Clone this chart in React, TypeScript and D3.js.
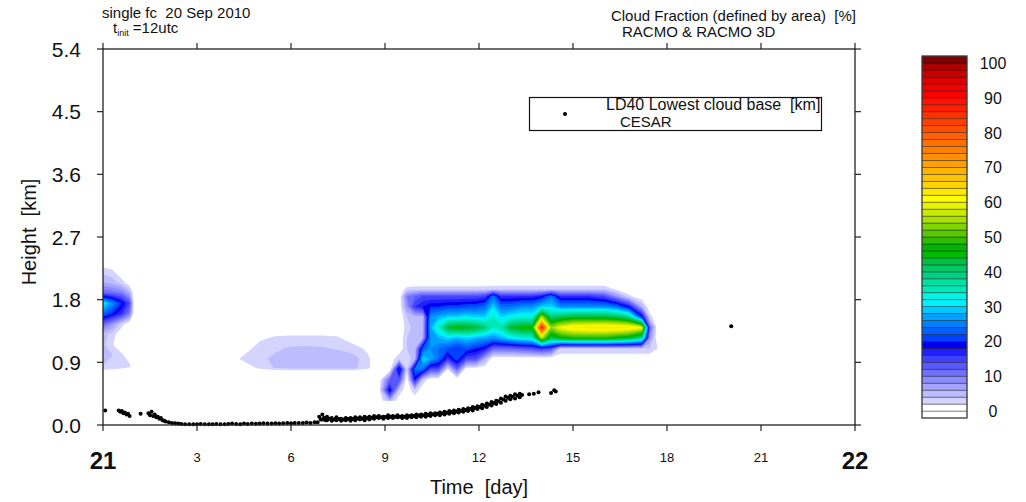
import React, { useMemo } from "react";
import * as d3 from "d3";

// ---------- DATA ----------
// Height axis ticks (km) and time ticks (hours after 21 Sep 00 UTC)
const heightTicks = [0.0, 0.9, 1.8, 2.7, 3.6, 4.5, 5.4];
const timeTicks = [0, 3, 6, 9, 12, 15, 18, 21, 24];
const timeTickLabels = ["21", "3", "6", "9", "12", "15", "18", "21", "22"];
const colorbarLabels = [0, 10, 20, 30, 40, 50, 60, 70, 80, 90, 100];
const cfLevels = d3.range(2, 101, 2);

// Cloud fraction [%] — blob at forecast start (rows bottom -> top)
const blobATimes = [0, 0.3, 0.6, 0.85, 1.0];
const blobAHeights = [0.6, 0.75, 0.85, 1.0, 1.15, 1.3, 1.45, 1.6, 1.75, 1.9, 2.05, 2.2, 2.35];
const blobAFraction = [
  [0, 0, 0, 0, 0],
  [0.5, 0.5, 0.5, 0.3, 0],
  [4, 3.5, 3, 2.4, 0],
  [5, 4, 2.5, 0.5, 0],
  [4.5, 2.2, 0, 0, 0],
  [5, 3, 0, 0, 0],
  [12, 8, 3, 0, 0],
  [24, 20, 16, 10, 0],
  [32, 26, 20, 14, 0],
  [12, 11, 10, 6, 0],
  [6, 5, 3, 0, 0],
  [3.5, 2.5, 0, 0, 0],
  [0, 0, 0, 0, 0],
];

// Faint mid-morning cloud
const blobBTimes = [4.0, 4.4, 5.0, 5.5, 6.0, 6.5, 7.0, 7.5, 8.0, 8.45, 8.8];
const blobBHeights = [0.76, 0.82, 0.95, 1.1, 1.25, 1.4];
const blobBFraction = [
  [0, 0, 0, 0, 0, 0, 0, 0, 0, 0, 0],
  [0, 0, 2.5, 4.2, 4.6, 4.8, 4.8, 4.8, 4.6, 2.5, 0],
  [0, 2.2, 3.5, 4.5, 5, 5.2, 5.3, 5.2, 5, 2.5, 0],
  [0, 0.5, 3, 3.6, 4.3, 4.4, 4.2, 3.8, 3, 1.5, 0],
  [0, 0, 1.5, 2.4, 2.6, 2.6, 2.6, 2.3, 0.5, 0, 0],
  [0, 0, 0, 0, 0, 0, 0, 0, 0, 0, 0],
];

// Main afternoon cloud deck
const blobCTimes = [8.8, 9.15, 9.45, 9.7, 9.95, 10.2, 10.45, 10.7, 11.0, 11.3, 11.6, 11.9, 12.2, 12.45, 12.7, 13.0, 13.35, 13.7, 14.0, 14.3, 14.6, 15.0, 15.5, 16.0, 16.4, 16.8, 17.2, 17.45, 17.7, 17.95];
const blobCHeights = [0.35, 0.5, 0.65, 0.8, 0.95, 1.1, 1.25, 1.4, 1.55, 1.7, 1.85, 1.95, 2.05];
const blobCFraction = [
  [0, 6, 0, 0, 0, 0, 0, 0, 0, 0, 0, 0, 0, 0, 0, 0, 0, 0, 0, 0, 0, 0, 0, 0, 0, 0, 0, 0, 0, 0],
  [0, 20, 4, 0, 4, 0, 0, 0, 0, 0, 0, 0, 0, 0, 0, 0, 0, 0, 0, 0, 0, 0, 0, 0, 0, 0, 0, 0, 0, 0],
  [0, 12, 14, 0, 18, 4, 0, 0, 0, 0, 0, 0, 0, 0, 0, 0, 0, 0, 0, 0, 0, 0, 0, 0, 0, 0, 0, 0, 0, 0],
  [0, 0, 22, 3, 24, 24, 14, 14, 2, 12, 0, 0, 0, 0, 0, 0, 0, 0, 0, 0, 0, 0, 0, 0, 0, 0, 0, 0, 0, 0],
  [0, 0, 4, 3, 5, 30, 28, 24, 16, 22, 14, 14, 6, 0, 0, 0, 0, 0, 0, 0, 0, 0, 0, 0, 0, 0, 0, 0, 0, 0],
  [0, 0, 0, 4, 5, 22, 26, 24, 22, 20, 22, 20, 18, 12, 12, 12, 13, 14, 16, 14, 4, 4, 4, 4, 4, 4, 4, 4, 2, 0],
  [0, 0, 0, 4, 5, 6, 26, 28, 30, 28, 30, 28, 27, 26, 28, 31, 33, 34, 56, 42, 46, 48, 48, 48, 46, 44, 38, 8, 0, 0],
  [0, 0, 0, 3, 5, 5, 28, 34, 44, 46, 45, 44, 40, 34, 36, 44, 46, 46, 88, 54, 60, 63, 64, 64, 64, 63, 60, 12, 0, 0],
  [0, 0, 0, 4, 5, 5, 26, 28, 30, 30, 31, 30, 30, 34, 30, 32, 33, 33, 56, 40, 42, 44, 44, 44, 42, 38, 20, 3, 0, 0],
  [0, 0, 0, 8, 16, 18, 20, 20, 21, 21, 22, 22, 24, 30, 24, 24, 26, 26, 30, 30, 26, 26, 26, 26, 24, 18, 6, 0, 0, 0],
  [0, 0, 0, 10, 12, 14, 14, 14, 14, 14, 14, 14, 15, 24, 16, 16, 16, 16, 18, 24, 16, 16, 16, 14, 8, 2.5, 0, 0, 0, 0],
  [0, 0, 0, 3, 3.5, 3.5, 3.5, 3.5, 3.5, 3.5, 3.5, 3.5, 3.5, 4, 4, 4, 4, 4, 4, 4, 4, 4, 4, 4, 1.5, 0, 0, 0, 0, 0],
  [0, 0, 0, 0, 0, 0, 0, 0, 0, 0, 0, 0, 0, 0, 0, 0, 0, 0, 0, 0, 0, 0, 0, 0, 0, 0, 0, 0, 0, 0],
];

// LD40 lowest cloud base (CESAR) — time [h], height [km]
const ldTime = [
  0.07, 0.5, 0.55, 0.6, 0.65, 0.7, 0.75, 0.8, 0.85, 1.2,
  1.45, 1.5, 1.55, 1.6, 1.65, 1.7, 1.75, 1.8, 1.85, 1.9, 1.95,
  2.0, 2.1, 2.2, 2.3, 2.4, 2.5, 2.62, 2.75, 2.88, 3.0, 3.12, 3.25, 3.38, 3.5, 3.62, 3.75, 3.88,
  4.0, 4.12, 4.25, 4.38, 4.5, 4.62, 4.75, 4.88, 5.0, 5.12, 5.25, 5.38, 5.5, 5.62, 5.75, 5.88,
  6.0, 6.12, 6.25, 6.38, 6.5, 6.62, 6.75, 6.85,
  6.9, 6.95, 7.0, 7.0, 7.05, 7.1, 7.15, 7.15, 7.3, 7.3, 7.45, 7.45, 7.6, 7.6, 7.75, 7.75,
  7.9, 7.9, 8.05, 8.05, 8.2, 8.2, 8.35, 8.35, 8.5, 8.5, 8.65, 8.65, 8.8, 8.8, 8.95, 8.95,
  9.1, 9.1, 9.25, 9.25, 9.4, 9.4, 9.55, 9.55, 9.7, 9.7, 9.85, 9.85, 10.0, 10.0, 10.15, 10.15,
  10.3, 10.3, 10.45, 10.45, 10.6, 10.6, 10.75, 10.75, 10.9, 10.9, 11.05, 11.05, 11.2, 11.2,
  11.35, 11.35, 11.5, 11.5, 11.65, 11.65, 11.8, 11.8, 11.95, 11.95, 12.1, 12.1, 12.25, 12.25,
  12.4, 12.4, 12.55, 12.55, 12.7, 12.7, 12.85, 12.85, 13.0, 13.0, 13.15, 13.15, 13.3, 13.3,
  13.6, 13.75, 13.9, 14.3, 14.4, 14.45, 20.05,
  7.075, 7.225, 7.375, 7.525, 7.675, 7.825, 7.975, 8.125, 8.275, 8.425, 8.575, 8.725, 8.875,
  9.025, 9.175, 9.325, 9.475, 9.625, 9.775, 9.925, 10.075, 10.225, 10.375, 10.525, 10.675,
  10.825, 10.975, 11.125, 11.275, 11.425, 11.575, 11.725, 11.875, 12.025, 12.175, 12.325,
  12.475, 12.625, 12.775, 12.925, 13.075, 13.225, 13.375,
];
const ldHeight = [
  0.21, 0.21, 0.19, 0.2, 0.17, 0.18, 0.15, 0.16, 0.13, 0.16,
  0.17, 0.14, 0.19, 0.13, 0.15, 0.11, 0.12, 0.09, 0.1, 0.07, 0.06,
  0.05, 0.04, 0.03, 0.025, 0.02, 0.015, 0.012, 0.01, 0.012, 0.01, 0.015, 0.01, 0.012, 0.01, 0.015, 0.012, 0.01,
  0.015, 0.02, 0.015, 0.012, 0.02, 0.015, 0.02, 0.018, 0.02, 0.025, 0.02, 0.022, 0.025, 0.02, 0.025, 0.03,
  0.025, 0.03, 0.028, 0.03, 0.035, 0.03, 0.04, 0.04,
  0.12, 0.08, 0.08, 0.15, 0.1, 0.07, 0.07, 0.12, 0.06, 0.1, 0.07, 0.11, 0.06, 0.09, 0.07, 0.1,
  0.06, 0.1, 0.07, 0.11, 0.08, 0.11, 0.07, 0.12, 0.08, 0.12, 0.09, 0.13, 0.1, 0.13, 0.09, 0.12,
  0.1, 0.14, 0.1, 0.13, 0.11, 0.14, 0.1, 0.13, 0.1, 0.14, 0.11, 0.14, 0.11, 0.15, 0.12, 0.15,
  0.12, 0.16, 0.13, 0.17, 0.14, 0.17, 0.14, 0.18, 0.15, 0.19, 0.16, 0.2, 0.17, 0.21,
  0.18, 0.22, 0.19, 0.23, 0.2, 0.24, 0.21, 0.26, 0.23, 0.27, 0.24, 0.29, 0.26, 0.31,
  0.28, 0.33, 0.3, 0.35, 0.32, 0.38, 0.35, 0.41, 0.37, 0.42, 0.38, 0.44, 0.4, 0.45,
  0.44, 0.45, 0.47, 0.46, 0.5, 0.48, 1.42,
  0.1, 0.09, 0.08, 0.085, 0.08, 0.085, 0.085, 0.095, 0.095, 0.1, 0.105, 0.11, 0.11,
  0.115, 0.12, 0.12, 0.12, 0.12, 0.125, 0.13, 0.135, 0.14, 0.145, 0.155, 0.16,
  0.17, 0.175, 0.185, 0.195, 0.205, 0.215, 0.23, 0.245, 0.26, 0.275, 0.295,
  0.315, 0.34, 0.365, 0.39, 0.405, 0.42, 0.43,
];

// Colour table (52 boxes, bottom -> top)
const cfColors = [
  "#ffffff", "#ffffff", "#d4d4ff", "#bcbcff", "#a4a4ff", "#8c8cff", "#7070ff", "#5858ff",
  "#4040ff", "#2020ff", "#0000f0", "#0040ff", "#0060ff", "#0080ff", "#00a0ff", "#00c8ff",
  "#00f0ff", "#00f4e4", "#00e8b8", "#00e0a0", "#00d080", "#00c864", "#00c040", "#00bc00",
  "#00b400", "#30bc00", "#5ac800", "#80d400", "#a8e000", "#c8ec00", "#e6f400", "#ffff00",
  "#ffe800", "#ffd400", "#ffc400", "#ffb400", "#ffa000", "#ff9000", "#ff8000", "#ff7000",
  "#ff6000", "#ff5000", "#ff4000", "#ff3000", "#ff2000", "#ff1000", "#ff0000", "#f00000",
  "#dc0000", "#c80000", "#aa0000", "#800000",
];

// ---------- LAYOUT ----------
const W = 1026;
const H = 502;
const P = { left: 103, right: 855, top: 49, bottom: 425 };
const CB = { left: 922, right: 967, top: 56, bottom: 418 };
const FONT = "'Liberation Sans', Arial, Helvetica, sans-serif";

function interpAxis(arr: number[], c: number) {
  let u = c - 0.5;
  if (u < 0) u = 0;
  if (u > arr.length - 1) u = arr.length - 1;
  const i = Math.min(Math.floor(u), arr.length - 2);
  const f = u - i;
  return arr[i] + f * (arr[i + 1] - arr[i]);
}

function contourLayers(
  times: number[],
  heights: number[],
  rows: number[][],
  x: d3.ScaleLinear<number, number>,
  y: d3.ScaleLinear<number, number>
) {
  const n = times.length;
  const m = heights.length;
  const values = rows.flat();
  const gen = d3.contours().size([n, m]).thresholds(cfLevels);
  return gen(values).map((g) => {
    let d = "";
    g.coordinates.forEach((poly) => {
      poly.forEach((ring) => {
        ring.forEach(([cx, cy], i) => {
          const px = x(interpAxis(times, cx));
          const py = y(interpAxis(heights, cy));
          d += (i === 0 ? "M" : "L") + px.toFixed(2) + "," + py.toFixed(2);
        });
        d += "Z";
      });
    });
    return { value: g.value, d };
  });
}

export default function App() {
  const x = useMemo(() => d3.scaleLinear().domain([0, 24]).range([P.left, P.right]), []);
  const y = useMemo(() => d3.scaleLinear().domain([0, 5.4]).range([P.bottom, P.top]), []);
  const cbY = useMemo(() => d3.scaleLinear().domain([-2, 102]).range([CB.bottom, CB.top]), []);

  const layers = useMemo(() => {
    const a = contourLayers(blobATimes, blobAHeights, blobAFraction, x, y);
    const b = contourLayers(blobBTimes, blobBHeights, blobBFraction, x, y);
    const c = contourLayers(blobCTimes, blobCHeights, blobCFraction, x, y);
    return [...a, ...b, ...c];
  }, [x, y]);

  const colorFor = (v: number) => cfColors[Math.round(v / 2) + 1];

  return (
    <svg
      width={W}
      height={H}
      style={{ position: "absolute", left: 0, top: 0, background: "#fff", fontFamily: FONT }}
    >
      <defs>
        <clipPath id="plotClip">
          <rect x={P.left} y={P.top} width={P.right - P.left} height={P.bottom - P.top} />
        </clipPath>
      </defs>
      <rect x={0} y={0} width={W} height={H} fill="#fff" />

      {/* contour fill */}
      <g clipPath="url(#plotClip)">
        {layers
          .filter((l) => l.d.length > 0)
          .map((l, i) => (
            <path key={i} d={l.d} fill={colorFor(l.value)} fillRule="evenodd" stroke="none" />
          ))}
      </g>

      {/* LD40 cloud base dots */}
      <g>
        {ldTime.map((t, i) => (
          <circle key={i} cx={x(t)} cy={y(ldHeight[i])} r={2} fill="#000" />
        ))}
      </g>

      {/* frame */}
      <rect
        x={P.left}
        y={P.top}
        width={P.right - P.left}
        height={P.bottom - P.top}
        fill="none"
        stroke="#222"
        strokeWidth={1.3}
      />

      {/* x ticks */}
      {timeTicks.map((t, i) => (
        <g key={"xt" + i}>
          <line x1={x(t)} x2={x(t)} y1={P.bottom} y2={P.bottom + 6} stroke="#222" strokeWidth={1.2} />
          <line x1={x(t)} x2={x(t)} y1={P.top} y2={P.top - 6} stroke="#222" strokeWidth={1.2} />
          {i === 0 || i === timeTicks.length - 1 ? (
            <text x={x(t)} y={469} textAnchor="middle" fontSize={24} fontWeight="bold" fill="#111">
              {timeTickLabels[i]}
            </text>
          ) : (
            <text
              x={x(t)}
              y={462}
              textAnchor="middle"
              fontSize={13}
              fill="#111"
              style={{ fontFamily: "'Liberation Sans Narrow', " + FONT }}
            >
              {timeTickLabels[i]}
            </text>
          )}
        </g>
      ))}

      {/* y ticks */}
      {heightTicks.map((h, i) => (
        <g key={"yt" + i}>
          <line x1={P.left - 6} x2={P.left} y1={y(h)} y2={y(h)} stroke="#222" strokeWidth={1.2} />
          <line x1={P.right} x2={P.right + 6} y1={y(h)} y2={y(h)} stroke="#222" strokeWidth={1.2} />
          <text x={81} y={y(h) + 7.5} textAnchor="end" fontSize={21} fill="#111">
            {h.toFixed(1)}
          </text>
        </g>
      ))}

      {/* axis titles */}
      <text
        transform={`translate(36, ${(P.top + P.bottom) / 2 - 5}) rotate(-90)`}
        textAnchor="middle"
        fontSize={20}
        fill="#111"
        style={{ whiteSpace: "pre" }}
      >
        {"Height  [km]"}
      </text>
      <text x={(P.left + P.right) / 2} y={494} textAnchor="middle" fontSize={20} fill="#111" style={{ whiteSpace: "pre" }}>
        {"Time  [day]"}
      </text>

      {/* titles */}
      <text x={102} y={18} fontSize={15} fill="#111" style={{ whiteSpace: "pre" }}>
        {"single fc  20 Sep 2010"}
      </text>
      <text x={113} y={33} fontSize={15} fill="#111" style={{ whiteSpace: "pre" }}>
        t
        <tspan fontSize={9} dy={3}>
          init
        </tspan>
        <tspan dy={-3}>{" =12utc"}</tspan>
      </text>
      <text x={856} y={21} fontSize={15} textAnchor="end" fill="#111" style={{ whiteSpace: "pre" }}>
        {"Cloud Fraction (defined by area)  [%]"}
      </text>
      <text x={622} y={37} fontSize={15} fill="#111">
        RACMO &amp; RACMO 3D
      </text>

      {/* legend */}
      <rect x={529.5} y={97.5} width={292} height={33} fill="#fff" stroke="#111" strokeWidth={1.2} />
      <circle cx={565} cy={114} r={2} fill="#000" />
      <text x={606} y={110} fontSize={16} fill="#111" style={{ whiteSpace: "pre" }}>
        {"LD40 Lowest cloud base  [km]"}
      </text>
      <text x={620} y={127} fontSize={15} fill="#111">
        CESAR
      </text>

      {/* colour bar */}
      <g>
        {cfColors.map((c, k) => {
          const yTop = cbY(2 * k);
          const yBot = cbY(2 * k - 2);
          return (
            <rect
              key={"cb" + k}
              x={CB.left}
              y={yTop}
              width={CB.right - CB.left}
              height={yBot - yTop}
              fill={c}
              stroke="#000"
              strokeOpacity={0.45}
              strokeWidth={0.8}
            />
          );
        })}
        <rect
          x={CB.left}
          y={CB.top}
          width={CB.right - CB.left}
          height={CB.bottom - CB.top}
          fill="none"
          stroke="#444"
          strokeWidth={1.2}
        />
        {colorbarLabels.map((v) => (
          <text key={"cbl" + v} x={993} y={cbY(v) + 6} textAnchor="middle" fontSize={16} fill="#111">
            {v}
          </text>
        ))}
      </g>
    </svg>
  );
}
